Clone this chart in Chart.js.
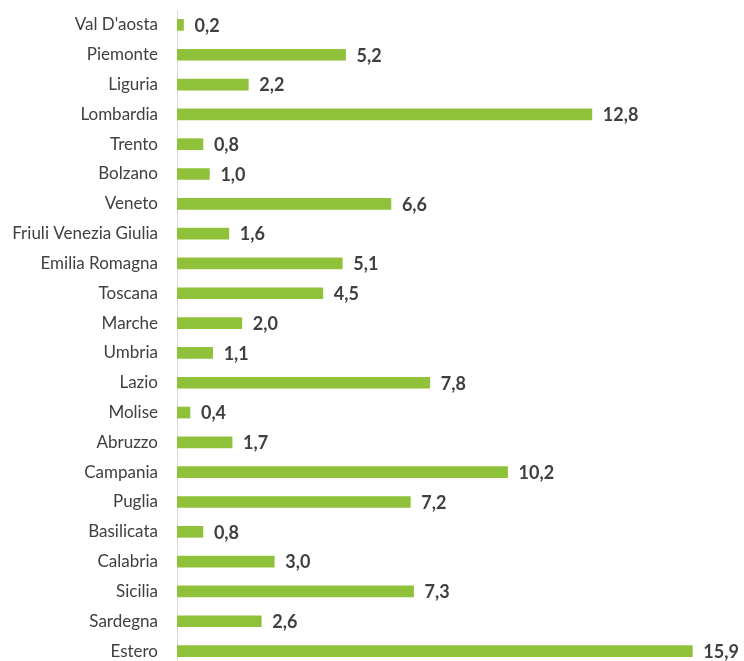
<!DOCTYPE html>
<html><head><meta charset="utf-8">
<script src="https://cdn.jsdelivr.net/npm/chart.js@4/dist/chart.umd.min.js"></script>
<style>html,body{margin:0;padding:0;background:#fff;overflow:hidden}#wrap{width:744px;height:666px;position:relative}</style>
</head><body><div id="wrap"><canvas id="c"></canvas></div>
<script>
const categories = ["Val D'aosta","Piemonte","Liguria","Lombardia","Trento","Bolzano","Veneto","Friuli Venezia Giulia","Emilia Romagna","Toscana","Marche","Umbria","Lazio","Molise","Abruzzo","Campania","Puglia","Basilicata","Calabria","Sicilia","Sardegna","Estero"];
const values = [0.2,5.2,2.2,12.8,0.8,1.0,6.6,1.6,5.1,4.5,2.0,1.1,7.8,0.4,1.7,10.2,7.2,0.8,3.0,7.3,2.6,15.9];

const valueLabels = {
  id:'valueLabels',
  afterDatasetsDraw(chart){
    const ctx = chart.ctx;
    const meta = chart.getDatasetMeta(0);
    ctx.save();
    ctx.font = 'bold 18px Lato, sans-serif';
    ctx.fillStyle = '#404040';
    ctx.textAlign = 'left';
    ctx.textBaseline = 'middle';
    meta.data.forEach((bar,i)=>{
      ctx.fillText(values[i].toFixed(1).replace('.',','), bar.x + 11, bar.y + 1);
    });
    ctx.restore();
  }
};

new Chart(document.getElementById('c'), {
  type:'bar',
  data:{labels:categories,datasets:[{data:values,backgroundColor:'#8fc23a',barThickness:11,categoryPercentage:1,barPercentage:1}]},
  options:{
    indexAxis:'y',
    responsive:true,maintainAspectRatio:false,animation:false,
    layout:{padding:{top:10,right:16,left:0,bottom:0}},
    plugins:{legend:{display:false},tooltip:{enabled:false}},
    scales:{
      x:{min:0,max:17,display:false,grid:{display:false}},
      y:{
        afterFit(s){s.width=177;s.paddingTop=0;s.paddingBottom=0;},
        grid:{display:false,drawTicks:false},
        border:{display:true,color:'#d9d9d9',width:1},
        ticks:{padding:19,color:'#404040',font:{family:'Lato, sans-serif',size:17},autoSkip:false}
      }
    }
  },
  plugins:[valueLabels]
});
</script></body></html>
